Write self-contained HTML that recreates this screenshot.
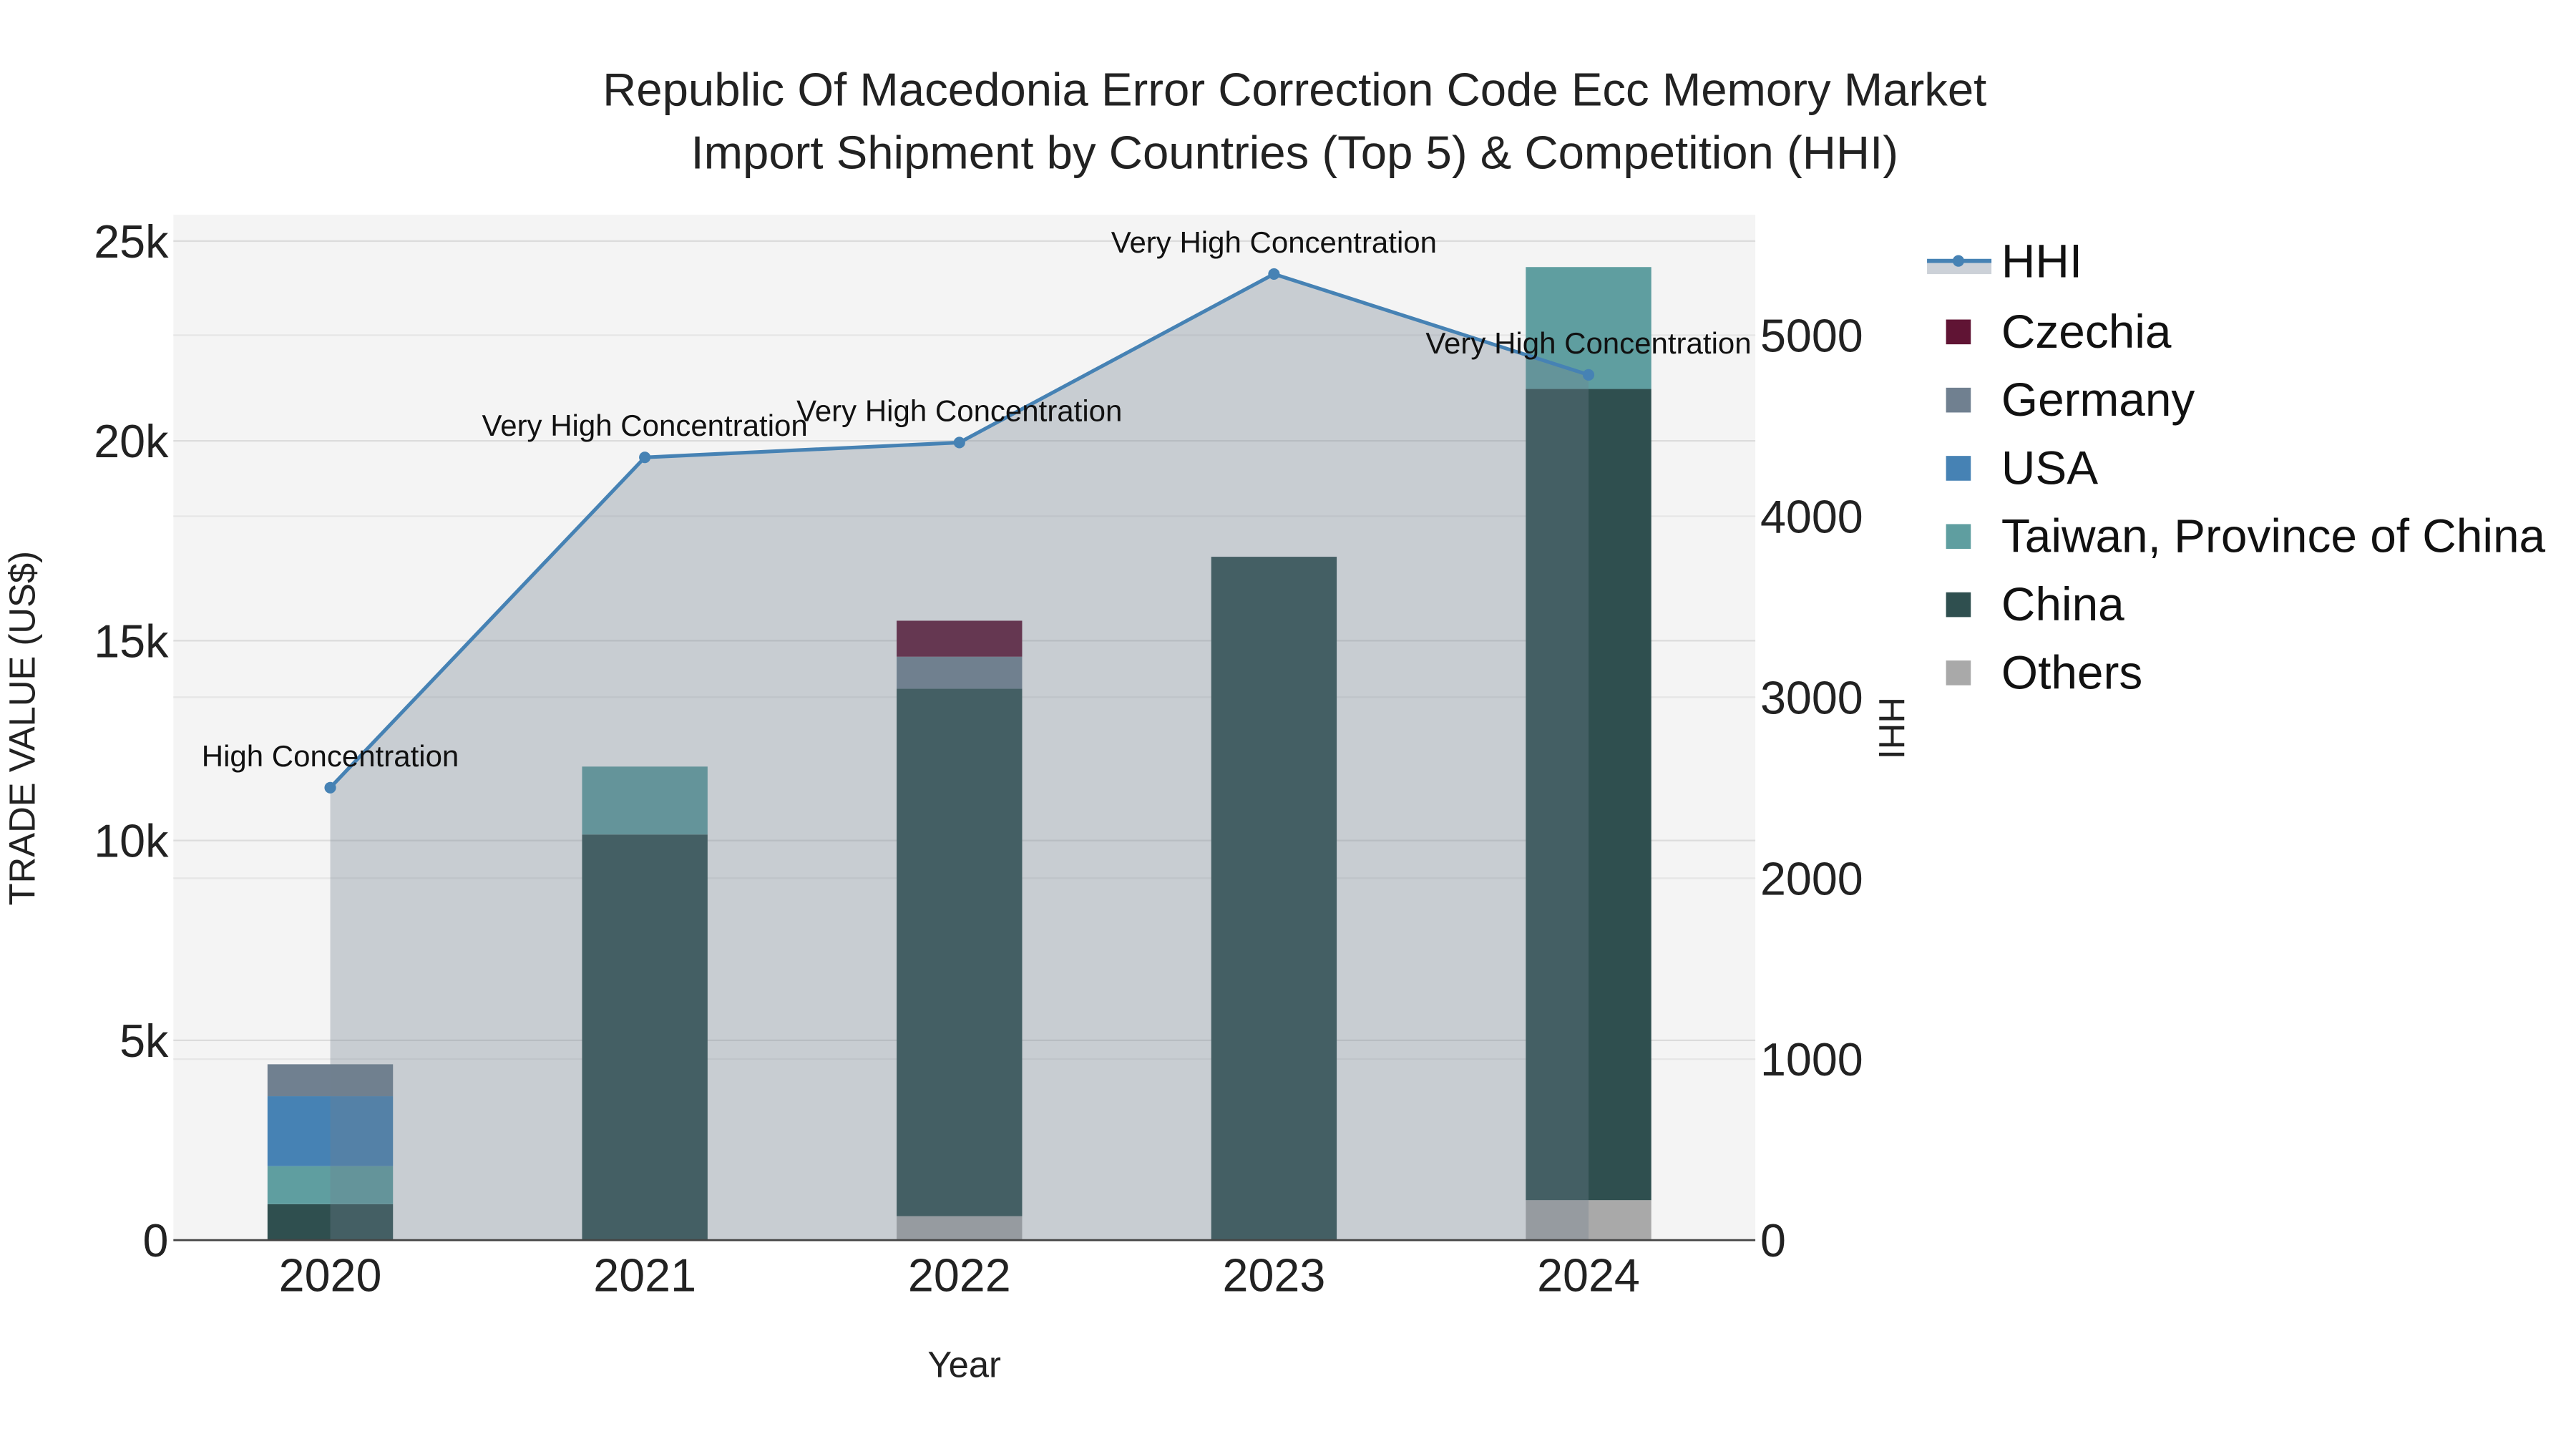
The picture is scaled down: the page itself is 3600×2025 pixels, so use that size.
<!DOCTYPE html>
<html><head><meta charset="utf-8"><style>html,body{margin:0;padding:0;background:#fff}svg{display:block}text{font-family:"Liberation Sans",Arial,sans-serif}</style></head>
<body>
<svg id="chart" width="3600" height="2025" viewBox="0 0 1560 877.5" xmlns="http://www.w3.org/2000/svg">
<rect x="105" y="130" width="958" height="621" fill="#f4f4f4"/>
<g id="grid"></g>
<g id="bars"></g>
<g id="hhi"></g>
<g id="axes"></g>
<text x="784" y="64" text-anchor="middle" font-size="28.3" fill="#222">Republic Of Macedonia Error Correction Code Ecc Memory Market</text>
<text x="784" y="102" text-anchor="middle" font-size="28.3" fill="#222">Import Shipment by Countries (Top 5) &amp; Competition (HHI)</text>
<text x="584" y="834" text-anchor="middle" font-size="22" fill="#222">Year</text>
<text transform="translate(21,441) rotate(-90)" text-anchor="middle" font-size="22" fill="#222">TRADE VALUE (US$)</text>
<text transform="translate(1138,441) rotate(90)" text-anchor="middle" font-size="22" fill="#222">HHI</text>
<g id="legend"></g>
</svg>
<script>
const years = ["2020","2021","2022","2023","2024"];
const others = [0, 0, 600, 0, 1000];
const china = [900, 10150, 13200, 17100, 20300];
const taiwan = [950, 1700, 0, 0, 3050];
const usa = [1750, 0, 0, 0, 0];
const germany = [800, 0, 800, 0, 0];
const czechia = [0, 0, 900, 0, 0];
const hhi = [2500, 4325, 4407, 5338, 4781];
const hhiLabels = ["High Concentration","Very High Concentration","Very High Concentration","Very High Concentration","Very High Concentration"];
const yTicks = [0, 5000, 10000, 15000, 20000, 25000];
const yTickLabels = ["0","5k","10k","15k","20k","25k"];
const y2Ticks = [0, 1000, 2000, 3000, 4000, 5000];
const y2TickLabels = ["0","1000","2000","3000","4000","5000"];

const NS = "http://www.w3.org/2000/svg";
function mk(tag, attrs, parent){const e=document.createElementNS(NS,tag);for(const k in attrs)e.setAttribute(k,attrs[k]);parent.appendChild(e);return e;}
const X0=200, DX=190.5, BW=76;
const xs = i => X0 + i*DX;
const ys = v => 751 - v*(605/25000);
const y2s = v => 751 - v*(548/5000);

const grid=document.getElementById('grid'), axes=document.getElementById('axes');
yTicks.forEach((t,i)=>{
  if(t>0){const g=mk('line',{x1:105,x2:1063,y1:ys(t),y2:ys(t),stroke:'#dcdcdc','stroke-width':1},grid);
  
  }
  const tx=mk('text',{x:102,y:ys(t)+10,'text-anchor':'end','font-size':28,fill:'#222'},axes);tx.textContent=yTickLabels[i];
  
  
});
y2Ticks.forEach((t,i)=>{
  if(t>0){const g=mk('line',{x1:105,x2:1063,y1:y2s(t),y2:y2s(t),stroke:'#e6e6e6','stroke-width':1},grid);
  
  }
  const tx=mk('text',{x:1066,y:y2s(t)+10,'text-anchor':'start','font-size':28,fill:'#222'},axes);tx.textContent=y2TickLabels[i];
  
  
});
years.forEach((y,i)=>{
  const tx=mk('text',{x:xs(i),y:782,'text-anchor':'middle','font-size':28,fill:'#222'},axes);tx.textContent=y;
  
  
});
const ax=mk('line',{x1:105,x2:1063,y1:751,y2:751,stroke:'#444','stroke-width':1.2},axes);



const series=[["Others",others,"#a9a9a9"],["China",china,"#2f4f4f"],["Taiwan, Province of China",taiwan,"#5f9ea0"],["USA",usa,"#4682b4"],["Germany",germany,"#708090"],["Czechia",czechia,"#601434"]];
const bars=document.getElementById('bars');
years.forEach((y,i)=>{
  let base=0;
  series.forEach(s=>{
    const v=s[1][i]; if(v<=0) return;
    const r=mk('rect',{x:xs(i)-BW/2,y:ys(base+v),width:BW,height:ys(base)-ys(base+v),fill:s[2]},bars);
    
    
    base+=v;
  });
});

const hg=document.getElementById('hhi');
let pts=hhi.map((v,i)=>xs(i)+','+y2s(v)).join(' ');
const area=mk('polygon',{points:xs(0)+',751 '+pts+' '+xs(hhi.length-1)+',751',fill:'rgba(112,128,144,0.33)'},hg);


const line=mk('polyline',{points:pts,fill:'none',stroke:'#4682b4','stroke-width':2.2},hg);


hhi.forEach((v,i)=>{
  const c=mk('circle',{cx:xs(i),cy:y2s(v),r:3.5,fill:'#4682b4'},hg);
  
  
  const t=mk('text',{x:xs(i),y:y2s(v)-13,'text-anchor':'middle','font-size':18.2,fill:'#111'},hg);t.textContent=hhiLabels[i];
  
  
});

const lg=document.getElementById('legend');
const e0=mk('g',{},lg);


mk('rect',{x:1167,y:158,width:39,height:8,fill:'#ccd1d8'},e0);
mk('line',{x1:1167,x2:1206,y1:158,y2:158,stroke:'#4682b4','stroke-width':2.5},e0);
mk('circle',{cx:1186,cy:158,r:3.5,fill:'#4682b4'},e0);
const t0=mk('text',{x:1212,y:168,'font-size':28.5,fill:'#111'},e0);t0.textContent='HHI';
const legItems=[["Czechia","#601434"],["Germany","#708090"],["USA","#4682b4"],["Taiwan, Province of China","#5f9ea0"],["China","#2f4f4f"],["Others","#a9a9a9"]];
legItems.forEach((it,k)=>{
  const cy=200.5+k*41.3;
  const g=mk('g',{},lg);
  
  
  mk('rect',{x:1178.5,y:cy-7,width:15,height:15,fill:it[1]},g);
  const t=mk('text',{x:1212,y:cy+10,'font-size':28.5,fill:'#111'},g);t.textContent=it[0];
});
</script>
</body></html>
